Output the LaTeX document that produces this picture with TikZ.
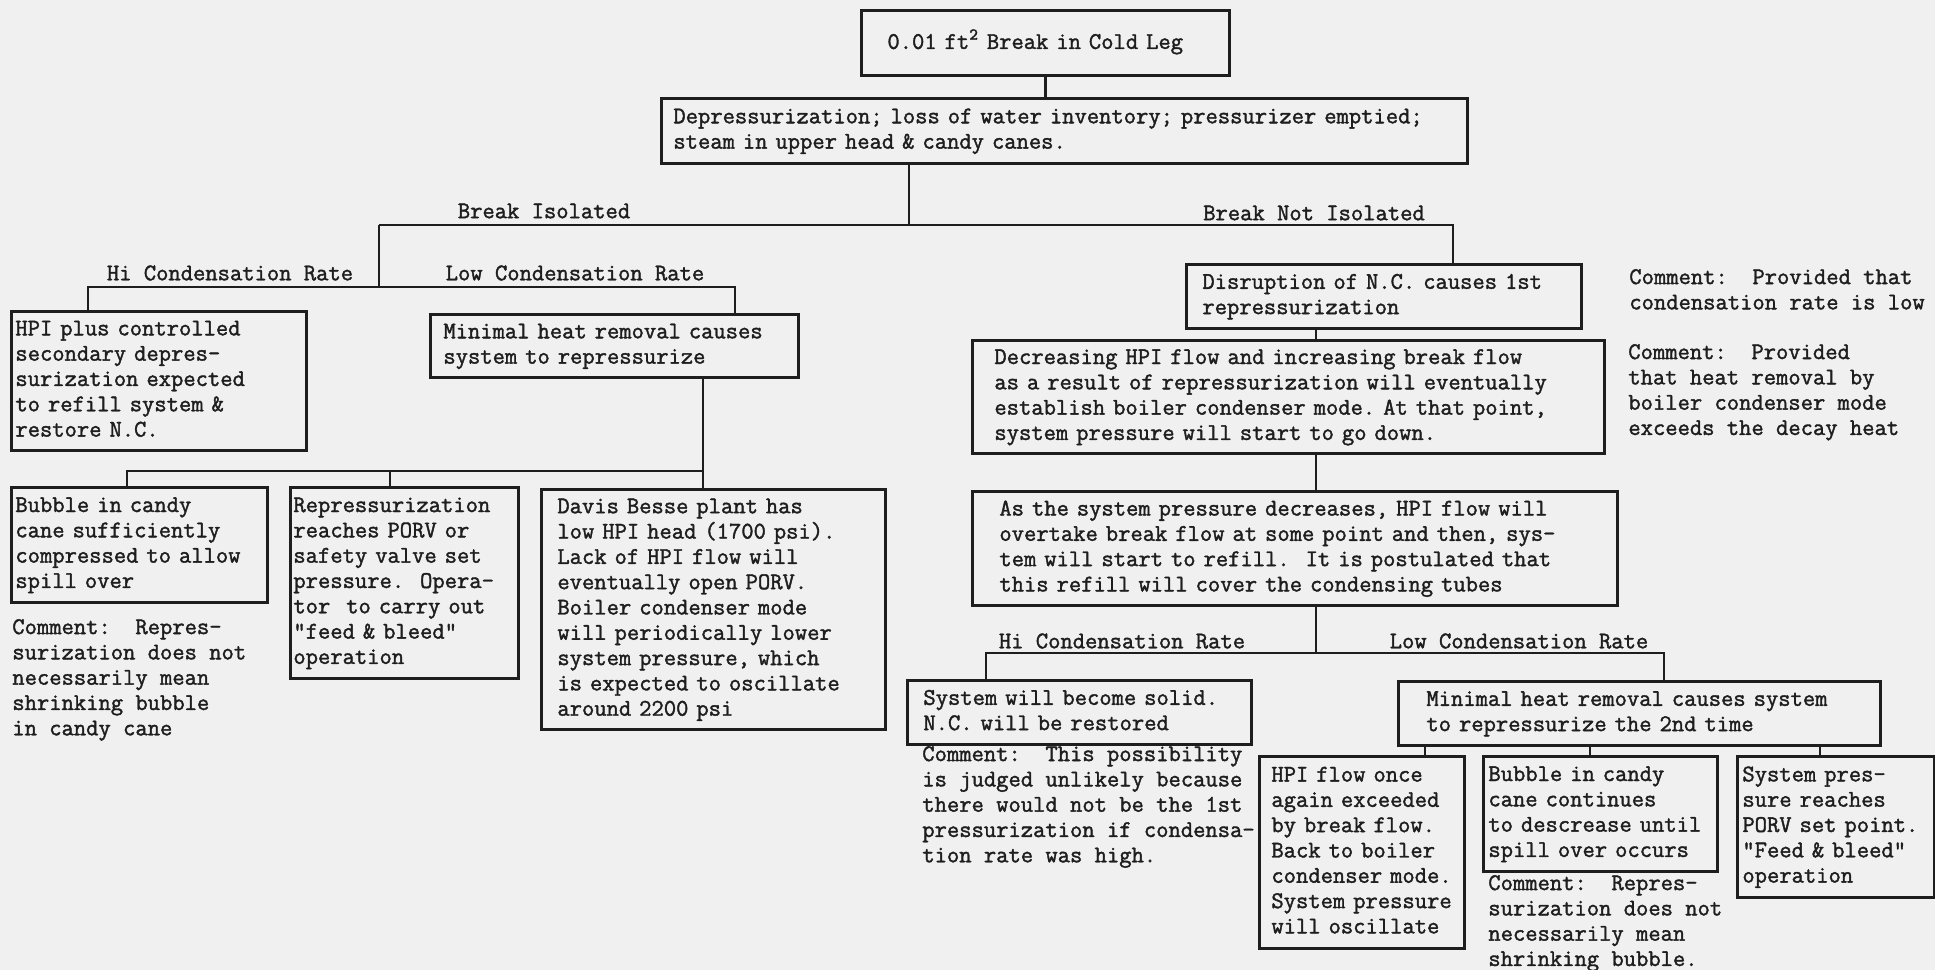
\documentclass[tikz,border=0pt]{standalone}
\usepackage{fontspec}
\newfontfamily\typewriter{Latin Modern Mono}[FakeBold=1.6]
\definecolor{paper}{RGB}{240,240,240}
\definecolor{ink}{RGB}{30,30,30}
\newcommand{\typed}[1]{\begin{tabular}{@{}l@{}}#1\end{tabular}}

\begin{document}
\begin{tikzpicture}[
			x=0.2mm,y=-0.2mm,
			every node/.style={font=\typewriter\fontsize{13.6pt}{14.4pt}\selectfont\frenchspacing,text=ink},
			box/.style={draw=ink,line width=1.6pt,anchor=north west,inner ysep=0pt,align=left},
			dims/.code n args={3}{
				\pgfmathsetlengthmacro\boxw{#1*0.2mm}
				\pgfmathsetlengthmacro\boxh{#2*0.2mm}
				\pgfmathsetlengthmacro\boxp{#3*0.2mm}
				\pgfmathsetlengthmacro\boxt{(#1-2*#3)*0.2mm}
				\pgfkeysalso{minimum width=\boxw,minimum height=\boxh,inner xsep=\boxp,text width=\boxt}
			},
			note/.style={anchor=north west,inner sep=0pt,align=left},
			branch/.style={inner sep=0pt},
			link/.style={draw=ink,line width=1.6pt},
			]
			\path[use as bounding box,fill=paper] (0,0) rectangle (1935,970);
			\node[box,dims={368}{65}{26}] (top) at (860,9) {\typed{0.01 ft\textsuperscript{2} Break in Cold Leg}};
			\node[box,dims={806}{65}{12}] (dep) at (660,97) {\typed{Depressurization; loss of water inventory; pressurizer emptied;\\steam in upper head \& candy canes.}};
			\node[box,dims={295}{139}{4}] (hpi) at (10,310) {\typed{HPI plus controlled\\secondary depres-\\surization expected\\to refill system \&\\restore N.C.}};
			\node[box,dims={368}{63}{13}] (min) at (429,313) {\typed{Minimal heat removal causes\\system to repressurize}};
			\node[box,dims={256}{115}{4}] (bub) at (10,486) {\typed{Bubble in candy\\cane sufficiently\\compressed to allow\\spill over}};
			\node[box,dims={228}{191}{3}] (rep) at (289,486) {\typed{Repressurization\\reaches PORV or\\safety valve set\\pressure.\ \ Opera-\\tor\ \ to carry out\\"feed \& bleed"\\operation}};
			\node[box,dims={344}{240}{16}] (dav) at (540,488) {\typed{Davis Besse plant has\\low HPI head (1700 psi).\\Lack of HPI flow will\\eventually open PORV.\\Boiler condenser mode\\will periodically lower\\system pressure, which\\is expected to oscillate\\around 2200 psi}};
			\node[box,dims={395}{64}{16}] (dis) at (1185,263) {\typed{Disruption of N.C. causes 1st\\repressurization}};
			\node[box,dims={632}{113}{22}] (dec) at (971,339) {\typed{Decreasing HPI flow and increasing break flow\\as a result of repressurization will eventually\\establish boiler condenser mode. At that point,\\system pressure will start to go down.}};
			\node[box,dims={645}{114}{27}] (as) at (971,490) {\typed{As the system pressure decreases, HPI flow will\\overtake break flow at some point and then, sys-\\tem will start to refill.\ \ It is postulated that\\this refill will cover the condensing tubes}};
			\node[box,dims={344}{64}{16}] (sys) at (906,679) {\typed{System will become solid.\\N.C. will be restored}};
			\node[box,dims={482}{64}{28}] (min2) at (1397,680) {\typed{Minimal heat removal causes system\\to repressurize the 2nd time}};
			\node[box,dims={205}{192}{12}] (hpi2) at (1258,755) {\typed{HPI flow once\\again exceeded\\by break flow.\\Back to boiler\\condenser mode.\\System pressure\\will oscillate}};
			\node[box,dims={234}{115}{5}] (bub2) at (1482,755) {\typed{Bubble in candy\\cane continues\\to descrease until\\spill over occurs}};
			\node[box,dims={197}{141}{5}] (sysp) at (1736,755) {\typed{System pres-\\sure reaches\\PORV set point.\\"Feed \& bleed"\\operation}};
			\node[note] (low1) at (1629,266) {\typed{Comment:\ \ Provided that\\condensation rate is low}};
			\node[note] (heat) at (1628,341) {\typed{Comment:\ \ Provided\\that heat removal by\\boiler condenser mode\\exceeds the decay heat}};
			\node[note] (shr1) at (12,616) {\typed{Comment:\ \ Repres-\\surization does not\\necessarily mean\\shrinking bubble\\in candy cane}};
			\node[note] (poss) at (922,743) {\typed{Comment:\ \ This possibility\\is judged unlikely because\\there would not be the 1st\\pressurization if condensa-\\tion rate was high.}};
			\node[note] (shr2) at (1488,872) {\typed{Comment:\ \ Repres-\\surization does not\\necessarily mean\\shrinking bubble.}};
			\node[branch] (iso) at (544,211) {Break Isolated};
			\node[branch] (notiso) at (1314,213) {Break Not Isolated};
			\node[branch] (hi1) at (230,273) {Hi Condensation Rate};
			\node[branch] (lo1) at (575,273) {Low Condensation Rate};
			\node[branch] (hi2) at (1122,641) {Hi Condensation Rate};
			\node[branch] (lo2) at (1519,641) {Low Condensation Rate};
			\coordinate (jdep) at (909,225);
			\coordinate (jiso) at (379,225);
			\coordinate (jnot) at (1453,225);
			\coordinate (jlow) at (379,287);
			\coordinate (jhl) at (88,287);
			\coordinate (jhr) at (735,287);
			\coordinate (jml) at (127,471);
			\coordinate (jmm) at (390,471);
			\coordinate (jmr) at (703,471);
			\coordinate (jspine) at (1316,500);
			\coordinate (jas) at (1316,653);
			\coordinate (jsl) at (986,653);
			\coordinate (jsr) at (1664,653);
			\coordinate (jt1) at (1425,750);
			\coordinate (jt2) at (1590,750);
			\coordinate (jt3) at (1820,750);
			\draw[link] (top.south) -- (top.south |- dep.north);
			\draw[link] (dep.south -| jdep) -- (jdep);
			\draw[link] (jiso) -- (jnot) -- (jnot |- dis.north);
			\draw[link] (jiso) -- (jlow);
			\draw[link] (hpi.north -| jhl) -- (jhl) -- (jhr) -- (min.north -| jhr);
			\draw[link] (min.south -| jmr) -- (jmr) -- (jml) -- (bub.north -| jml);
			\draw[link] (jmm) -- (rep.north -| jmm);
			\draw[link] (jmr) -- (dav.north -| jmr);
			\draw[link] (dis.south -| jspine) -- (dec.north -| jspine);
			\draw[link] (dec.south -| jspine) -- (as.north -| jspine);
			\draw[link] (as.south -| jas) -- (jas);
			\draw[link] (sys.north -| jsl) -- (jsl) -- (jsr) -- (min2.north -| jsr);
			\draw[link] (min2.south -| jt1) -- (hpi2.north -| jt1);
			\draw[link] (min2.south -| jt2) -- (bub2.north -| jt2);
			\draw[link] (min2.south -| jt3) -- (sysp.north -| jt3);
		\end{tikzpicture}
\end{document}
